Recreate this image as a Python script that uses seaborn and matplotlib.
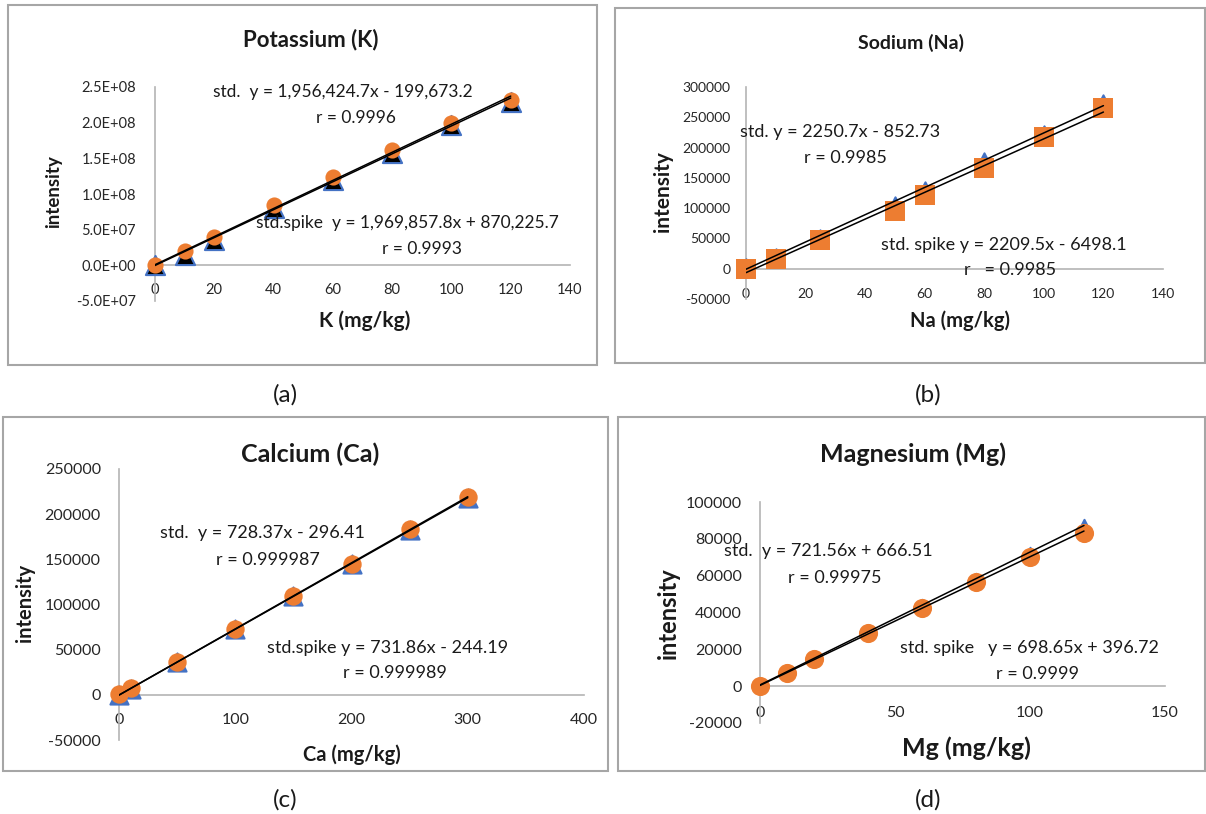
import matplotlib
matplotlib.use("Agg")
import matplotlib.pyplot as plt
import seaborn as sns
import pandas as pd
from matplotlib.patches import Rectangle
from matplotlib.ticker import FuncFormatter

# Data
k_x = [0, 10, 20, 40, 60, 80, 100, 120]
k_std = [0, 1.5e7, 3.6e7, 8.1e7, 1.2e8, 1.58e8, 1.97e8, 2.29e8]
k_spike = [0, 1.95e7, 4.0e7, 8.4e7, 1.24e8, 1.62e8, 2.0e8, 2.32e8]
k_fit = [(1956424.7, -199673.2), (1969857.8, 870225.7)]

na_x = [0, 10, 25, 50, 60, 80, 100, 120]
na_std = [8000, 25000, 55000, 110000, 135000, 182000, 228000, 278000]
na_spike = [0, 15400, 47000, 95000, 122000, 166000, 217000, 266000]
na_fit = [(2250.7, -852.73), (2209.5, -6498.1)]

ca_x = [0, 10, 50, 100, 150, 200, 250, 300]
ca_std = [0, 7000, 36200, 72500, 109000, 145000, 182000, 218000]
ca_spike = [700, 7400, 36900, 72700, 109600, 144600, 183400, 218500]
ca_fit = [(728.37, -296.41), (731.86, -244.19)]

mg_x = [0, 10, 20, 40, 60, 80, 100, 120]
mg_std = [700, 7900, 15200, 29800, 44500, 59000, 73000, 88000]
mg_spike = [0, 6880, 14480, 28950, 42700, 56650, 70200, 83250]
mg_fit = [(721.56, 666.51), (698.65, 396.72)]

BLUE = "#4472C4"
ORANGE = "#ED7D31"
W, H = 1206, 814

sns.set_theme(style="white")
plt.rcParams['font.family'] = ['Lato', 'DejaVu Sans']

fig = plt.figure(figsize=(W / 100, H / 100), dpi=100)


def fx(x):
    return x / W


def fy(y):
    return 1 - y / H


def add_axes(l, t, r, b):
    return fig.add_axes([fx(l), fy(b), fx(r) - fx(l), fy(t) - fy(b)])


def style_axes(ax, xlim, ylim, xticks, yticks, fsize, ypad, xpad, fmt=None):
    ax.set_xlim(xlim)
    ax.set_ylim(ylim)
    ax.set_xticks(xticks)
    ax.set_yticks(yticks)
    for s in ["top", "right"]:
        ax.spines[s].set_visible(False)
    ax.spines["left"].set_position(("data", 0))
    ax.spines["bottom"].set_position(("data", 0))
    for s in ["left", "bottom"]:
        ax.spines[s].set_color("#b4b4b4")
        ax.spines[s].set_linewidth(1.2)
    ax.tick_params(axis="y", length=0, labelsize=fsize, pad=ypad, colors="#262626")
    ax.tick_params(axis="x", length=0, labelsize=fsize, pad=xpad, colors="#262626")
    if fmt is not None:
        ax.yaxis.set_major_formatter(FuncFormatter(fmt))
    ax.set_xlabel("")
    ax.set_ylabel("")
    ax.patch.set_alpha(0)


def draw_points(ax, x, std, spike, tri_s, tri_face, spike_marker, spike_s):
    df = pd.DataFrame({"x": x, "std": std, "spike": spike})
    sns.scatterplot(data=df, x="x", y="std", marker="^", s=tri_s, color=tri_face,
                    edgecolor=BLUE, linewidth=1.5, clip_on=False, zorder=3, ax=ax)
    sns.scatterplot(data=df, x="x", y="spike", marker=spike_marker, s=spike_s,
                    color=ORANGE, edgecolor=ORANGE, linewidth=0, clip_on=False,
                    zorder=4, ax=ax)


def draw_fits(ax, x, fits):
    for m, b in fits:
        xs = [min(x), max(x)]
        line = pd.DataFrame({"x": xs, "y": [m * v + b for v in xs]})
        sns.lineplot(data=line, x="x", y="y", color="black", linewidth=1.1,
                     zorder=5, ax=ax)


def border(l, t, r, b):
    fig.patches.append(Rectangle((fx(l), fy(b)), fx(r) - fx(l), fy(t) - fy(b),
                                 transform=fig.transFigure, fill=False,
                                 edgecolor="#a6a6a6", linewidth=1.5))


def label(x, y, s, size, ha="center", weight="normal", rot=0):
    fig.text(fx(x), fy(y), s, fontsize=size, ha=ha, va="center",
             fontweight=weight, rotation=rot, color="#1a1a1a")


# (a) Potassium
border(8, 5, 597, 365)
ax = add_axes(155, 87, 570, 301)
draw_points(ax, k_x, k_std, k_spike, 190, "black", "o", 135)
draw_fits(ax, k_x, k_fit)
style_axes(ax, (0, 140), (-5e7, 2.5e8), range(0, 141, 20),
           [-5e7, 0, 5e7, 1e8, 1.5e8, 2e8, 2.5e8], 10.5, 13.5, 13,
           fmt=lambda v, p: f"{v:.1E}")
label(311, 40, "Potassium (K)", 16, weight="bold")
label(54, 192, "intensity", 13.5, weight="bold", rot=90)
label(365, 321, "K (mg/kg)", 15, weight="bold")
label(213, 92, "std.  y = 1,956,424.7x - 199,673.2", 12.5, ha="left")
label(356, 118, "r = 0.9996", 12.5)
label(256, 223, "std.spike  y = 1,969,857.8x + 870,225.7", 12.5, ha="left")
label(422, 249, "r = 0.9993", 12.5)
label(285, 395, "(a)", 17.5)

# (b) Sodium
border(615, 8, 1205, 363)
ax = add_axes(746, 87, 1163, 299)
draw_points(ax, na_x, na_std, na_spike, 55, BLUE, "s", 210)
draw_fits(ax, na_x, na_fit)
style_axes(ax, (0, 140), (-50000, 300000), range(0, 141, 20),
           range(-50000, 300001, 50000), 10, 11, 14,
           fmt=lambda v, p: f"{v:.0f}")
label(911, 43, "Sodium (Na)", 14, weight="bold")
label(663, 192, "intensity", 15, weight="bold", rot=90)
label(960, 321, "Na (mg/kg)", 14.5, weight="bold")
label(740, 132, "std. y = 2250.7x - 852.73", 13, ha="left")
label(845, 158, "r = 0.9985", 13)
label(881, 245, "std. spike y = 2209.5x - 6498.1", 13, ha="left")
label(1010, 270, "r   = 0.9985", 13)
label(928, 395, "(b)", 17.5)

# (c) Calcium
border(3, 417, 608, 771)
ax = add_axes(119, 469, 584, 740)
draw_points(ax, ca_x, ca_std, ca_spike, 170, BLUE, "o", 175)
draw_fits(ax, ca_x, ca_fit)
style_axes(ax, (0, 400), (-50000, 250000), range(0, 401, 100),
           range(-50000, 250001, 50000), 11.5, 13, 13,
           fmt=lambda v, p: f"{v:.0f}")
label(310, 454, "Calcium (Ca)", 18, weight="bold")
label(25, 603, "intensity", 14.5, weight="bold", rot=90)
label(352, 755, "Ca (mg/kg)", 14.5, weight="bold")
label(160, 533, "std.  y = 728.37x - 296.41", 13, ha="left")
label(268, 560, "r = 0.999987", 13)
label(267, 648, "std.spike y = 731.86x - 244.19", 13, ha="left")
label(395, 673, "r = 0.999989", 13)
label(285, 800, "(c)", 17.5)

# (d) Magnesium
border(618, 417, 1205, 771)
ax = add_axes(760, 502, 1165, 723)
draw_points(ax, mg_x, mg_std, mg_spike, 45, BLUE, "o", 190)
draw_fits(ax, mg_x, mg_fit)
style_axes(ax, (0, 150), (-20000, 100000), range(0, 151, 50),
           range(-20000, 100001, 20000), 11.5, 13, 14,
           fmt=lambda v, p: f"{v:.0f}")
label(913, 454, "Magnesium (Mg)", 18, weight="bold")
label(668, 613, "intensity", 17, weight="bold", rot=90)
label(966, 748, "Mg (mg/kg)", 18, weight="bold")
label(724, 551, "std.  y = 721.56x + 666.51", 13, ha="left")
label(835, 578, "r = 0.99975", 13)
label(900, 648, "std. spike   y = 698.65x + 396.72", 13, ha="left")
label(1037, 674, "r = 0.9999", 13)
label(928, 800, "(d)", 17.5)

fig.savefig("out.png", dpi=100)
